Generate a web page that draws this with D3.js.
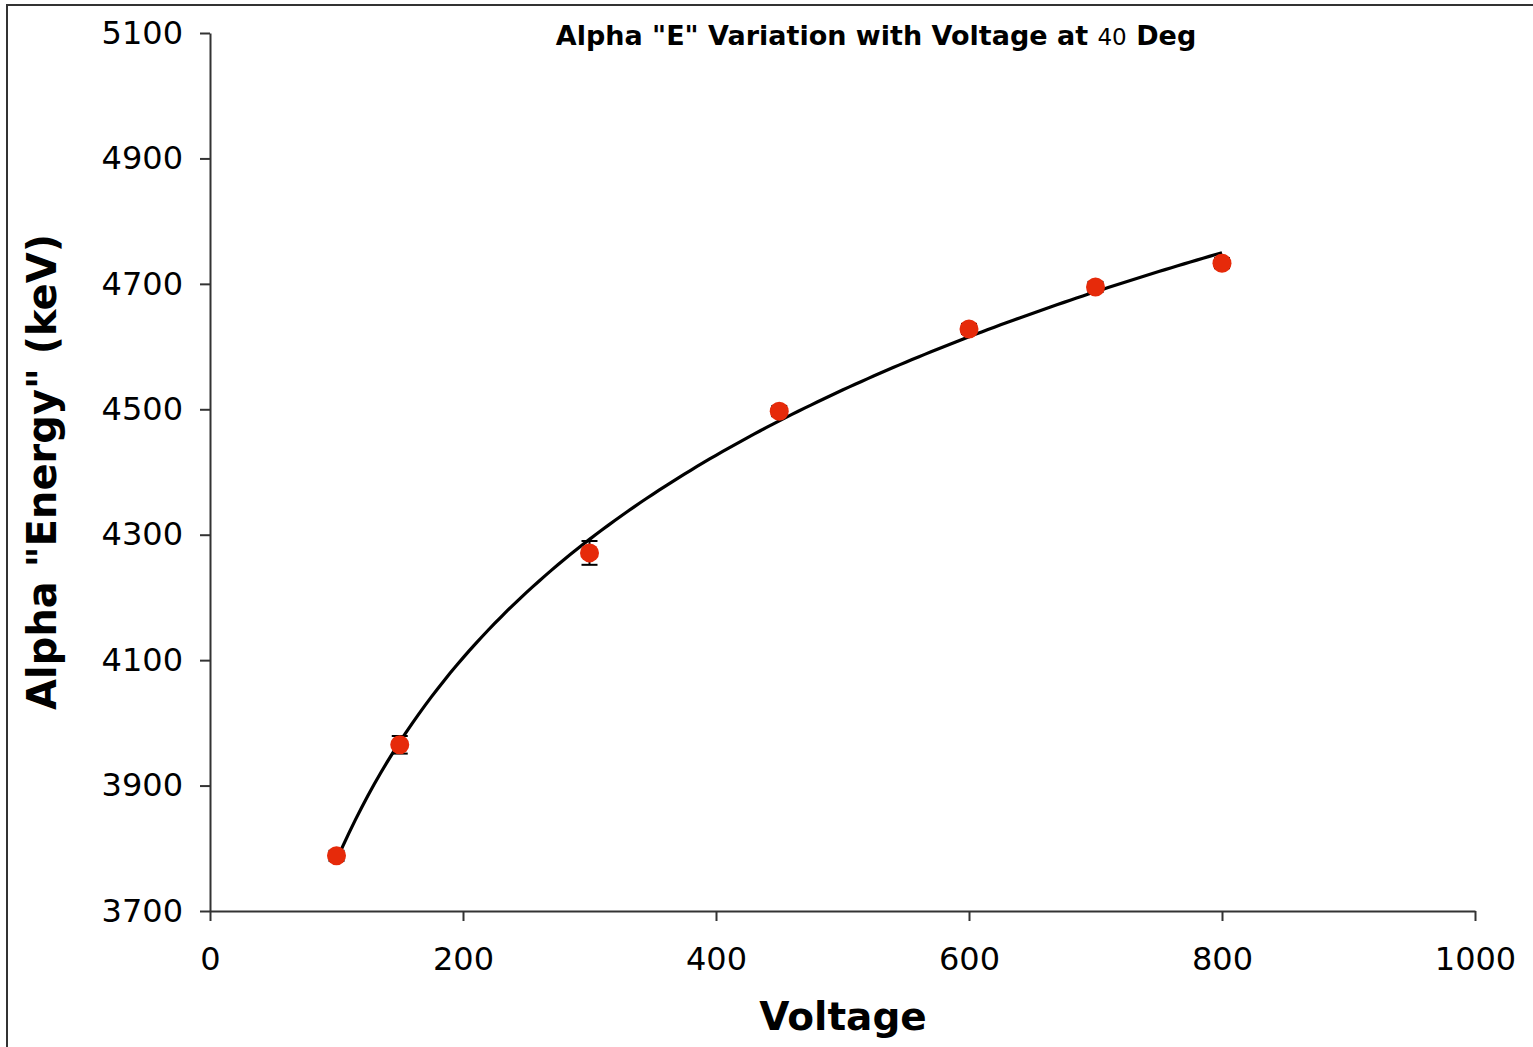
<!DOCTYPE html>
<html>
<head>
<meta charset="utf-8">
<script src="https://cdn.jsdelivr.net/npm/d3@7"></script>
<style>
  html, body { margin: 0; padding: 0; background: #fff; }
  svg { display: block; }
</style>
</head>
<body>
<svg id="chart" width="1533" height="1047"></svg>
<script>
const voltage = [100, 150, 300, 450, 600, 700, 800];
const energy = [3788, 3965, 4271, 4497, 4628, 4695, 4733];
const energyErr = [8, 14, 19, 8, 8, 8, 8];
const xTicks = [0, 200, 400, 600, 800, 1000];
const yTicks = [3700, 3900, 4100, 4300, 4500, 4700, 4900, 5100];

const svg = d3.select("#chart");
const font = "'DejaVu Sans', Verdana, sans-serif";

// outer frame
svg.append("rect").attr("x", 7).attr("y", 5).attr("width", 1560).attr("height", 1080)
  .attr("fill", "none").attr("stroke", "#333").attr("stroke-width", 2);

const x = d3.scaleLinear().domain([0, 1000]).range([210, 1475]);
const y = d3.scaleLinear().domain([3700, 5100]).range([911, 33]);

// axes
const xAxis = svg.append("g").attr("transform", "translate(0,911)")
  .call(d3.axisBottom(x).tickValues(xTicks).tickFormat(d3.format("d")).tickSize(10).tickPadding(26).tickSizeOuter(0));
const yAxis = svg.append("g").attr("transform", "translate(210,0)")
  .call(d3.axisLeft(y).tickValues(yTicks).tickFormat(d3.format("d")).tickSize(10).tickPadding(17).tickSizeOuter(0));
[xAxis, yAxis].forEach(g => {
  g.select(".domain").attr("stroke", "#333").attr("stroke-width", 2);
  g.selectAll(".tick line").attr("stroke", "#333").attr("stroke-width", 2);
  g.selectAll(".tick text").attr("fill", "#000").style("font-family", font).style("font-size", "32px");
});
xAxis.selectAll(".tick text").attr("dy", "0.71em");

// logarithmic trend line (least squares fit on ln(x))
const lx = voltage.map(Math.log);
const mx = d3.mean(lx), my = d3.mean(energy);
const a = d3.sum(lx.map((v, i) => (v - mx) * (energy[i] - my))) / d3.sum(lx.map(v => (v - mx) ** 2));
const b = my - a * mx;
const fitX = d3.range(100, 800.01, 5);
svg.append("path")
  .datum(fitX)
  .attr("fill", "none").attr("stroke", "#000").attr("stroke-width", 3.2)
  .attr("d", d3.line().x(d => x(d)).y(d => y(a * Math.log(d) + b)));

// error bars
const eb = svg.append("g").attr("stroke", "#000").attr("stroke-width", 2);
voltage.forEach((v, i) => {
  const cx = x(v), y1 = y(energy[i] - energyErr[i]), y2 = y(energy[i] + energyErr[i]);
  eb.append("line").attr("x1", cx).attr("x2", cx).attr("y1", y1).attr("y2", y2);
  eb.append("line").attr("x1", cx - 8).attr("x2", cx + 8).attr("y1", y1).attr("y2", y1);
  eb.append("line").attr("x1", cx - 8).attr("x2", cx + 8).attr("y1", y2).attr("y2", y2);
});

// points
svg.append("g").selectAll("circle").data(voltage).join("circle")
  .attr("cx", d => x(d)).attr("cy", (d, i) => y(energy[i])).attr("r", 9.5)
  .attr("fill", "#e62a0a");

// title
const t = svg.append("text").attr("x", 876).attr("y", 45).attr("text-anchor", "middle")
  .style("font-family", font).style("font-size", "27px").style("font-weight", "bold").attr("fill", "#000");
t.append("tspan").text('Alpha "E" Variation with Voltage at ');
t.append("tspan").text("40").style("font-weight", "normal").style("font-size", "23px");
t.append("tspan").text(" Deg");

// axis titles
svg.append("text").attr("x", 843).attr("y", 1030).attr("text-anchor", "middle")
  .style("font-family", font).style("font-size", "39px").style("font-weight", "bold").text("Voltage");
svg.append("text").attr("transform", "translate(56,472) rotate(-90)").attr("text-anchor", "middle")
  .style("font-family", font).style("font-size", "40px").style("font-weight", "bold").text('Alpha "Energy" (keV)');
</script>
</body>
</html>
